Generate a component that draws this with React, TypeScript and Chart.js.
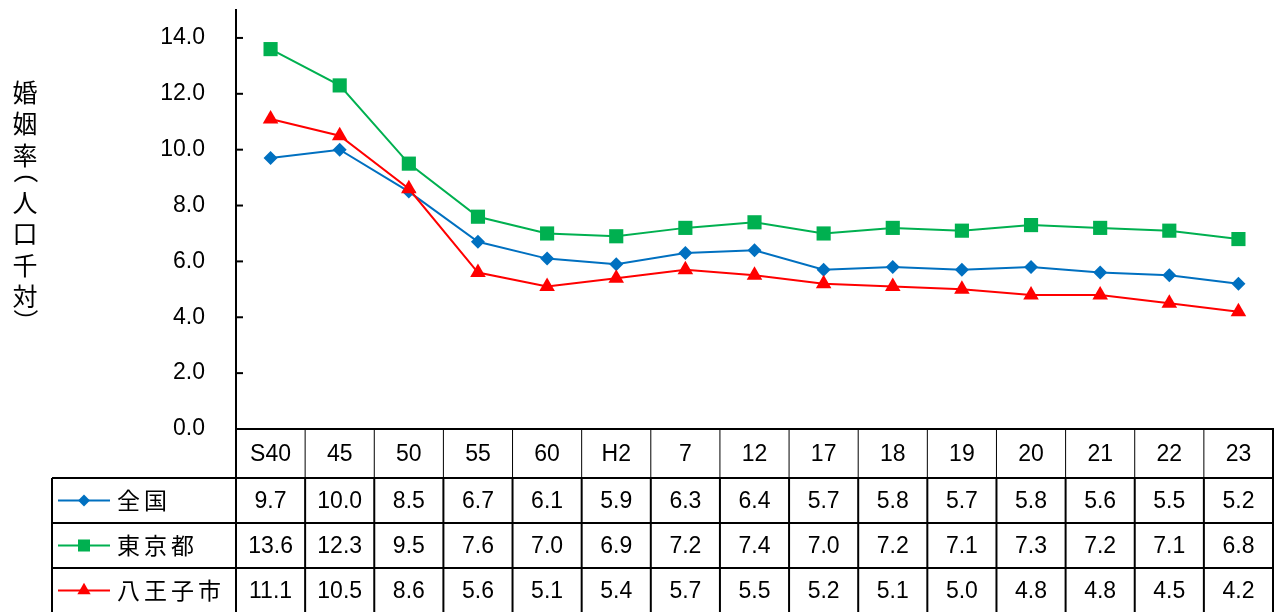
import React, { useEffect, useRef } from "react";
import { Chart, registerables } from "chart.js";

Chart.register(...registerables);

const categories = ["S40", "45", "50", "55", "60", "H2", "7", "12", "17", "18", "19", "20", "21", "22", "23"];
const seriesNames = ["全国", "東京都", "八王子市"];
const nationalValues = [9.7, 10.0, 8.5, 6.7, 6.1, 5.9, 6.3, 6.4, 5.7, 5.8, 5.7, 5.8, 5.6, 5.5, 5.2];
const tokyoValues = [13.6, 12.3, 9.5, 7.6, 7.0, 6.9, 7.2, 7.4, 7.0, 7.2, 7.1, 7.3, 7.2, 7.1, 6.8];
const hachiojiValues = [11.1, 10.5, 8.6, 5.6, 5.1, 5.4, 5.7, 5.5, 5.2, 5.1, 5.0, 4.8, 4.8, 4.5, 4.2];
const yTickValues = [0, 2, 4, 6, 8, 10, 12, 14];
const yTitle = "婚姻率（人口千対）";

const seriesColors = ["#0070C0", "#00B050", "#FF0000"];
const seriesStyles = ["rectRot", "rect", "triangle"];
const seriesRadius = [7, 10, 9];

const NUM_FONT = "23px 'Liberation Sans', Arial, sans-serif";
const JP_FONT = "23px 'Noto Sans CJK JP', sans-serif";
const TITLE_FONT = "25px 'Noto Sans CJK JP', sans-serif";

function drawMarker(ctx: CanvasRenderingContext2D, style: string, x: number, y: number, r: number, color: string) {
  ctx.save();
  ctx.fillStyle = color;
  ctx.beginPath();
  if (style === "rectRot") {
    ctx.moveTo(x - r, y);
    ctx.lineTo(x, y - r);
    ctx.lineTo(x + r, y);
    ctx.lineTo(x, y + r);
  } else if (style === "rect") {
    const s = Math.SQRT1_2 * r;
    ctx.rect(x - s, y - s, 2 * s, 2 * s);
  } else {
    const a = (2 * Math.PI) / 3;
    ctx.moveTo(x, y - r);
    ctx.lineTo(x + Math.sin(a) * r, y - Math.cos(a) * r);
    ctx.lineTo(x - Math.sin(a) * r, y - Math.cos(a) * r);
  }
  ctx.closePath();
  ctx.fill();
  ctx.restore();
}

const tablePlugin = {
  id: "dataTable",
  afterDraw(chart: any) {
    const ctx: CanvasRenderingContext2D = chart.ctx;
    const area = chart.chartArea;
    const yScale = chart.scales.y;
    const left = area.left;
    const right = area.right;
    const n = categories.length;
    const colW = (right - left) / n;
    const headerTop = area.bottom;
    const headerBottom = headerTop + 49;
    const rowH = 45;
    const legendLeft = 52;
    const rows = [nationalValues, tokyoValues, hachiojiValues];
    const tableBottom = headerBottom + rowH * rows.length;

    ctx.save();
    ctx.strokeStyle = "#000";

    // inner y ticks
    ctx.lineWidth = 2;
    yScale.ticks.forEach((t: any) => {
      const y = yScale.getPixelForValue(t.value);
      ctx.beginPath();
      ctx.moveTo(left, y);
      ctx.lineTo(left + 7, y);
      ctx.stroke();
    });

    // header vertical lines
    for (let i = 0; i <= n; i++) {
      const x = left + i * colW;
      ctx.lineWidth = i === 0 || i === n ? 2 : 1;
      ctx.beginPath();
      ctx.moveTo(x, headerTop);
      ctx.lineTo(x, headerBottom);
      ctx.stroke();
    }
    // body vertical lines
    ctx.lineWidth = 2;
    for (let i = 0; i <= n; i++) {
      const x = left + i * colW;
      ctx.beginPath();
      ctx.moveTo(x, headerBottom);
      ctx.lineTo(x, tableBottom);
      ctx.stroke();
    }
    ctx.beginPath();
    ctx.moveTo(legendLeft, headerBottom);
    ctx.lineTo(legendLeft, tableBottom);
    ctx.stroke();
    // horizontal lines
    for (let r = 0; r <= rows.length; r++) {
      const y = headerBottom + r * rowH;
      ctx.beginPath();
      ctx.moveTo(legendLeft, y);
      ctx.lineTo(right, y);
      ctx.stroke();
    }

    // header labels
    ctx.fillStyle = "#000";
    ctx.font = NUM_FONT;
    ctx.textAlign = "center";
    ctx.textBaseline = "middle";
    categories.forEach((c, i) => {
      ctx.fillText(c, left + (i + 0.5) * colW, (headerTop + headerBottom) / 2 + 1);
    });

    // values + legend
    rows.forEach((vals, r) => {
      const cy = headerBottom + r * rowH + rowH / 2;
      ctx.font = NUM_FONT;
      ctx.textAlign = "center";
      ctx.fillStyle = "#000";
      vals.forEach((v, i) => {
        ctx.fillText(v.toFixed(1), left + (i + 0.5) * colW, cy + 1);
      });
      // legend sample
      ctx.strokeStyle = seriesColors[r];
      ctx.lineWidth = 2;
      ctx.beginPath();
      ctx.moveTo(58, cy);
      ctx.lineTo(110, cy);
      ctx.stroke();
      drawMarker(ctx, seriesStyles[r], 84, cy, seriesRadius[r] * 0.85, seriesColors[r]);
      ctx.strokeStyle = "#000";
      ctx.fillStyle = "#000";
      ctx.font = JP_FONT;
      ctx.textAlign = "left";
      (ctx as any).letterSpacing = "4px";
      ctx.fillText(seriesNames[r], 117, cy);
      (ctx as any).letterSpacing = "0px";
    });

    // vertical y title
    ctx.font = TITLE_FONT;
    ctx.textAlign = "center";
    ctx.textBaseline = "middle";
    ctx.fillStyle = "#000";
    const full = 31.5;
    const half = 15.75;
    let cursor = 76.25;
    const tx = 25;
    for (const ch of Array.from(yTitle)) {
      const isParen = ch === "（" || ch === "）";
      const adv = isParen ? half : full;
      const cy = cursor + adv / 2;
      if (isParen) {
        const off = ch === "（" ? -7.5 : 1;
        ctx.save();
        ctx.translate(tx, cy + off);
        ctx.rotate(Math.PI / 2);
        ctx.fillText(ch, 0, 0);
        ctx.restore();
      } else {
        ctx.fillText(ch, tx, cy);
      }
      cursor += adv;
    }
    ctx.restore();
  },
};

export default function App() {
  const canvasRef = useRef<HTMLCanvasElement | null>(null);

  useEffect(() => {
    document.body.style.margin = "0";
    const canvas = canvasRef.current;
    if (!canvas) return;
    const makeDs = (label: string, data: number[], idx: number, order: number) => ({
      label,
      data,
      borderColor: seriesColors[idx],
      backgroundColor: seriesColors[idx],
      borderWidth: 2,
      pointStyle: seriesStyles[idx],
      pointRadius: seriesRadius[idx],
      pointBorderWidth: 0,
      pointBackgroundColor: seriesColors[idx],
      tension: 0,
      order,
    });
    const chart = new Chart(canvas, {
      type: "line",
      data: {
        labels: categories,
        datasets: [
          makeDs(seriesNames[0], nationalValues, 0, 3),
          makeDs(seriesNames[1], tokyoValues, 1, 2),
          makeDs(seriesNames[2], hachiojiValues, 2, 1),
        ],
      },
      options: {
        responsive: false,
        animation: false,
        layout: { padding: { top: 10, right: 9, left: 0, bottom: 0 } },
        plugins: { legend: { display: false }, tooltip: { enabled: false } },
        scales: {
          x: {
            type: "category",
            offset: true,
            grid: { display: false, drawTicks: false },
            ticks: { display: false },
            border: { display: true, color: "#000", width: 2 },
            afterFit: (s: any) => {
              s.height = 183;
              s.paddingLeft = 0;
              s.paddingRight = 0;
            },
          },
          y: {
            min: 0,
            max: 15,
            ticks: {
              color: "#000",
              padding: 31,
              font: { family: "'Liberation Sans', Arial, sans-serif", size: 23 },
              callback: (v: any) => Number(v).toFixed(1),
            },
            grid: { display: false, drawTicks: false },
            border: { display: true, color: "#000", width: 2 },
            afterBuildTicks: (s: any) => {
              s.ticks = yTickValues.map((v) => ({ value: v }));
            },
            afterFit: (s: any) => {
              s.width = 236;
              s.paddingTop = 0;
              s.paddingBottom = 0;
            },
          },
        },
      },
      plugins: [tablePlugin],
    } as any);
    return () => chart.destroy();
  }, []);

  return (
    <div style={{ width: 1283, height: 612, background: "#fff" }}>
      <canvas ref={canvasRef} width={1283} height={612} style={{ display: "block" }} />
    </div>
  );
}
